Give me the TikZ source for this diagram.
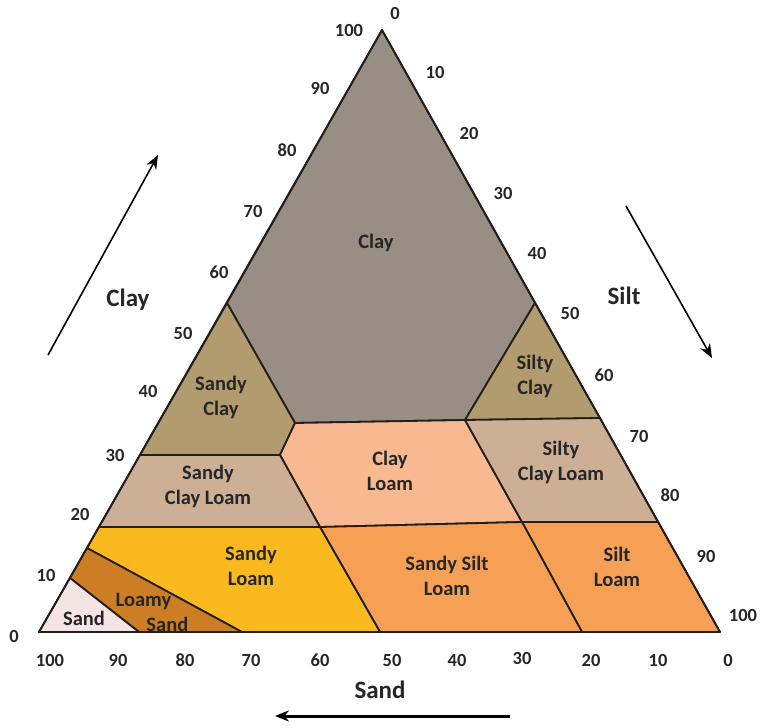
\documentclass[tikz,border=0pt]{standalone}
\usepackage{fontspec}
\setmainfont{Carlito}
\usetikzlibrary{arrows.meta}
\definecolor{cClay}{RGB}{152,142,132}
\definecolor{cSandyClay}{RGB}{178,155,110}
\definecolor{cSCL}{RGB}{205,175,150}
\definecolor{cClayLoam}{RGB}{248,185,145}
\definecolor{cSandyLoam}{RGB}{250,185,30}
\definecolor{cLoamySand}{RGB}{205,125,35}
\definecolor{cSand}{RGB}{245,228,228}
\definecolor{cSiltLoam}{RGB}{245,160,85}
\definecolor{cLine}{RGB}{35,30,28}
\begin{document}
\begin{tikzpicture}[x=1pt,y=-1pt,
  zone/.style={draw=cLine,line width=1.8pt,line join=round},
  region/.style={font=\bfseries\fontsize{20.5}{25}\selectfont,align=center,text=black!85,inner sep=0pt},
  tick/.style={font=\bfseries\fontsize{18.5}{18.5}\selectfont,text=black!85,inner sep=0pt},
  axislabel/.style={font=\bfseries\fontsize{25}{25}\selectfont,text=black!85,inner sep=0pt},
  axisarrow/.style={line width=1.6pt,-{Stealth[length=14pt,width=11pt]}}]
\useasboundingbox (0,0) rectangle (763,728);
% vertices
\coordinate (A) at (382,30);
\coordinate (BL) at (39,632);
\coordinate (BR) at (720,632);
\coordinate (c1) at (227,303);
\coordinate (c2) at (295,423);
\coordinate (c3) at (465,420);
\coordinate (c4) at (535,303);
\coordinate (sc1) at (280,455);
\coordinate (sc2) at (140,455);
\coordinate (scl1) at (99,527);
\coordinate (scl2) at (320,527);
\coordinate (si1) at (600,418);
\coordinate (si2) at (522,522);
\coordinate (si3) at (658,522);
\coordinate (sl1) at (582,632);
\coordinate (ssl1) at (380,632);
\coordinate (ls1) at (87,548);
\coordinate (ls2) at (242,632);
\coordinate (s1) at (70,578);
\coordinate (s2) at (139,632);
% regions
\filldraw[zone,fill=cClay] (A) -- (c4) -- (c3) -- (c2) -- (c1) -- cycle;
\filldraw[zone,fill=cSandyClay] (c1) -- (c2) -- (sc1) -- (sc2) -- cycle;
\filldraw[zone,fill=cSandyClay] (c4) -- (si1) -- (c3) -- cycle;
\filldraw[zone,fill=cClayLoam] (c2) -- (c3) -- (si2) -- (scl2) -- (sc1) -- cycle;
\filldraw[zone,fill=cSCL] (sc2) -- (sc1) -- (scl2) -- (scl1) -- cycle;
\filldraw[zone,fill=cSCL] (c3) -- (si1) -- (si3) -- (si2) -- cycle;
\filldraw[zone,fill=cSiltLoam] (si2) -- (si3) -- (BR) -- (sl1) -- cycle;
\filldraw[zone,fill=cSiltLoam] (scl2) -- (si2) -- (sl1) -- (ssl1) -- cycle;
\filldraw[zone,fill=cSandyLoam] (scl1) -- (scl2) -- (ssl1) -- (ls2) -- (ls1) -- cycle;
\filldraw[zone,fill=cLoamySand] (ls1) -- (ls2) -- (s2) -- (s1) -- cycle;
\filldraw[zone,fill=cSand] (s1) -- (s2) -- (BL) -- cycle;
\draw[zone] (A) -- (BR) -- (BL) -- cycle;
% region labels
\node[region] (tClay) at (376,243) {Clay};
\node[region] (tSandyClay) at (221,397) {Sandy\\Clay};
\node[region] (tSiltyClay) at (535,376) {Silty\\Clay};
\node[region] (tClayLoam) at (390,471) {Clay\\Loam};
\node[region] (tSCL) at (208,486) {Sandy\\Clay Loam};
\node[region] (tSiCL) at (561,462) {Silty\\Clay Loam};
\node[region] (tSandyLoam) at (251,566) {Sandy\\Loam};
\node[region] (tSSL) at (447,576) {Sandy Silt\\Loam};
\node[region] (tSiltLoam) at (617,567) {Silt\\Loam};
\node[region,align=left] (tLoamySand) at (152,612) {Loamy\\\hspace*{1.5em}Sand};
\node[region] (tSand) at (84,618) {Sand};
% left ticks (clay)
\node[tick] (l100) at (349,30) {100};
\node[tick] (l90) at (320,88) {90};
\node[tick] (l80) at (287,150) {80};
\node[tick] (l70) at (253,211) {70};
\node[tick] (l60) at (219,272) {60};
\node[tick] (l50) at (183,333) {50};
\node[tick] (l40) at (148,391) {40};
\node[tick] (l30) at (115,455) {30};
\node[tick] (l20) at (80,514) {20};
\node[tick] (l10) at (46,575) {10};
\node[tick] (l0) at (14,636) {0};
% right ticks (silt)
\node[tick] (r0) at (395,13) {0};
\node[tick] (r10) at (435,72) {10};
\node[tick] (r20) at (469,133) {20};
\node[tick] (r30) at (503,193) {30};
\node[tick] (r40) at (537,253) {40};
\node[tick] (r50) at (570,313) {50};
\node[tick] (r60) at (604,375) {60};
\node[tick] (r70) at (639,436) {70};
\node[tick] (r80) at (670,495) {80};
\node[tick] (r90) at (706,556) {90};
\node[tick] (r100) at (743,615) {100};
% bottom ticks (sand)
\node[tick] (b100) at (50,660) {100};
\node[tick] (b90) at (118,660) {90};
\node[tick] (b80) at (185,660) {80};
\node[tick] (b70) at (251,660) {70};
\node[tick] (b60) at (320,660) {60};
\node[tick] (b50) at (392,660) {50};
\node[tick] (b40) at (457,660) {40};
\node[tick] (b30) at (522,658) {30};
\node[tick] (b20) at (591,660) {20};
\node[tick] (b10) at (658,660) {10};
\node[tick] (b0) at (728,660) {0};
% axis labels and arrows
\node[axislabel] (xClay) at (128,300) {Clay};
\node[axislabel] (xSilt) at (624,296) {Silt};
\node[axislabel] (xSand) at (380,690) {Sand};
\coordinate (clayS) at (48,355);
\coordinate (clayE) at (158,155);
\coordinate (siltS) at (626,206);
\coordinate (siltE) at (712,358);
\coordinate (sandS) at (510,716);
\coordinate (sandE) at (275,716);
\draw[axisarrow] (clayS) -- (clayE);
\draw[axisarrow] (siltS) -- (siltE);
\draw[axisarrow,line width=3pt] (sandS) -- (sandE);
\end{tikzpicture}
\end{document}
